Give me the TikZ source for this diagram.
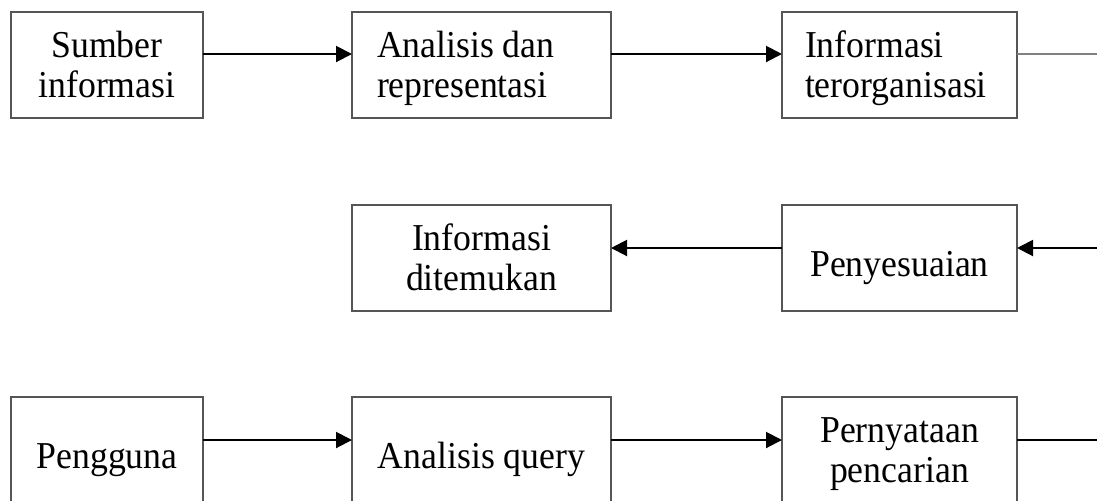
\documentclass[tikz,border=0pt]{standalone}
\usepackage{fontspec}
\setmainfont{Liberation Serif}[FakeStretch=0.94]
\usepackage{xcolor}
\usetikzlibrary{arrows.meta}
\definecolor{boxgray}{RGB}{85,85,85}
\definecolor{linegray}{RGB}{128,128,128}
\newcommand{\ctext}[1]{\begin{tabular}[t]{@{}c@{}}#1\end{tabular}}
\newcommand{\ltext}[2]{\makebox[#1][l]{\begin{tabular}[t]{@{}l@{}}#2\end{tabular}}}

\begin{document}
\begin{tikzpicture}[x=0.5pt, y=-0.5pt,
  box/.style={draw=boxgray, line width=1pt, anchor=north west, inner sep=0pt,
    outer sep=0pt, font=\fontsize{19}{20}\selectfont},
  twoline/.style={text height=22.5pt, text depth=30.5pt},
  oneline/.style={text height=35.5pt, text depth=17.5pt},
  arr/.style={-{Triangle[length=8pt, width=8pt]}, line width=1pt}]
  \useasboundingbox (0,0) rectangle (1097,500);
  % Row 1
  \node[box, twoline, minimum width=96pt] (sumber) at (11,12) {\ctext{Sumber\\informasi}};
  \node[box, twoline, inner xsep=12.5pt] (analisis) at (352,12) {\ltext{104.5pt}{Analisis dan\\representasi}};
  \node[box, twoline, inner xsep=11.5pt] (infoorg) at (782,12) {\ltext{94.5pt}{Informasi\\terorganisasi}};
  \coordinate (outa) at (1097,54);
  \draw[arr] ([yshift=5.5pt]sumber.east) -- ([yshift=5.5pt]analisis.west);
  \draw[arr] ([yshift=5.5pt]analisis.east) -- ([yshift=5.5pt]infoorg.west);
  \draw[linegray, line width=1pt] ([yshift=5.5pt]infoorg.east) -- (outa);
  % Row 2
  \node[box, twoline, minimum width=129.5pt] (ditemukan) at (352,205) {\ctext{Informasi\\ditemukan}};
  \node[box, oneline, minimum width=117.5pt] (penyesuaian) at (782,205) {\ctext{Penyesuaian}};
  \coordinate (ina) at (1097,248);
  \draw[arr] (ina) -- ([yshift=5pt]penyesuaian.east);
  \draw[arr] ([yshift=5pt]penyesuaian.west) -- ([yshift=5pt]ditemukan.east);
  % Row 3
  \node[box, oneline, minimum width=96pt] (pengguna) at (11,397) {\ctext{Pengguna}};
  \node[box, oneline, minimum width=129.5pt] (query) at (352,397) {\ctext{Analisis query}};
  \node[box, twoline, minimum width=117.5pt] (pernyataan) at (782,397) {\ctext{Pernyataan\\pencarian}};
  \coordinate (outb) at (1097,440);
  \draw[arr] ([yshift=5pt]pengguna.east) -- ([yshift=5pt]query.west);
  \draw[arr] ([yshift=5pt]query.east) -- ([yshift=5pt]pernyataan.west);
  \draw[line width=1pt] ([yshift=5pt]pernyataan.east) -- (outb);
\end{tikzpicture}
\end{document}
